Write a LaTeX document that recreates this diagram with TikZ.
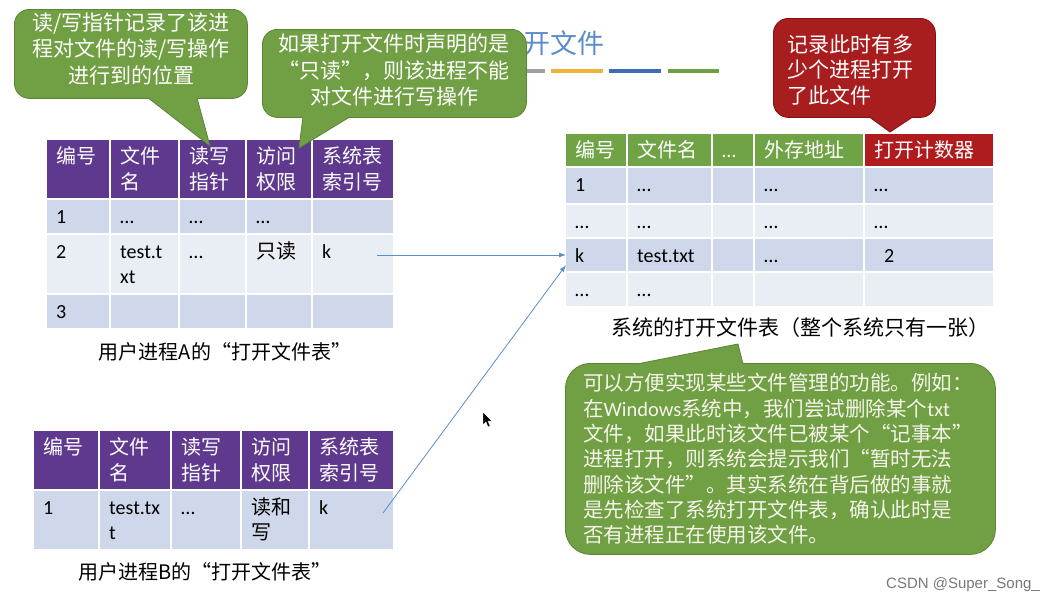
\documentclass[tikz,border=0pt]{standalone}
\usepackage{fontspec}
\setmainfont{Noto Sans CJK SC}
\newfontfamily\lat{Carlito}
\newfontfamily\zh{Noto Sans CJK SC}
\newfontfamily\wmfont{Liberation Sans}
\usepackage{tikz}
\usetikzlibrary{arrows.meta}

\definecolor{hdpurple}{RGB}{94,57,142}
\definecolor{rowdark}{RGB}{207,216,234}
\definecolor{rowlight}{RGB}{233,237,244}
\definecolor{hdgreen}{RGB}{112,163,70}
\definecolor{hdred}{RGB}{176,28,30}
\definecolor{bubgreen}{RGB}{113,159,67}
\definecolor{bubgreenline}{RGB}{92,132,54}
\definecolor{bubred}{RGB}{168,30,30}
\definecolor{bubredline}{RGB}{128,20,20}
\definecolor{linkblue}{RGB}{91,143,201}
\definecolor{titleblue}{RGB}{91,141,200}
\definecolor{dashgray}{RGB}{160,160,160}
\definecolor{dashyellow}{RGB}{240,180,60}
\definecolor{dashblue}{RGB}{63,109,181}
\definecolor{dashgreen}{RGB}{110,159,69}
\definecolor{wmgray}{RGB}{120,120,120}

\tikzset{
  cellbox/.style={rectangle, inner sep=0pt, outer sep=0pt, anchor=north west},
  hdtext/.style={anchor=north west, inner sep=0pt, align=left, text=white, font=\fontsize{20}{26}\selectfont},
  celltext/.style={anchor=north west, inner sep=0pt, align=left, text=black, font=\lat\fontsize{20}{25}\selectfont},
  bubble/.style={rectangle, rounded corners=15pt, inner sep=0pt, anchor=north west, line width=0.8pt},
  bubtext/.style={inner sep=0pt, text=white, font=\fontsize{21}{26.5}\selectfont},
  caption/.style={inner sep=0pt, font=\fontsize{20}{24}\selectfont},
  link/.style={linkblue, line width=0.8pt, -{Latex[length=7pt,width=5pt]}},
}

% fixed height of a cell's first line
\newcommand{\firstline}{\rule{0pt}{18pt}}
% one table cell: name, left, top, width, height, fill, text style, text
\newcommand{\tcell}[8]{%
  \node[cellbox, fill=#6, minimum width=#4pt-2pt, minimum height=#5pt-2pt] (#1) at (#2+1,#3+1) {};
  \node[#7] (#1t) at ([xshift=9pt,yshift=-5pt]#1.north west) {\firstline#8};}

\begin{document}
\begin{tikzpicture}[x=1pt, y=-1pt]
\fill[white] (0,0) rectangle (1054,603);
\useasboundingbox (0,0) rectangle (1054,603);

% title
\node[inner sep=0pt, text=titleblue, font=\fontsize{27}{30}\selectfont] (title) at (564,43) {开文件};
\foreach \a/\b/\fc in {505/545/dashgray, 551/603/dashyellow, 609/661/dashblue, 668/719/dashgreen}
  \draw[\fc, line width=4pt] (\a,71) -- (\b,71);

% user process A
\foreach \i/\x/\w/\txt in {1/46/64/编号, 2/110/69/{文件\\名}, 3/179/67/{读写\\指针}, 4/246/66/{访问\\权限}, 5/312/82/{系统表\\索引号}}
  {\tcell{A0\i}{\x}{139}{\w}{60}{hdpurple}{hdtext}{\txt}}
\foreach \i/\x/\w/\txt in {1/46/64/1, 2/110/69/…, 3/179/67/…, 4/246/66/…, 5/312/82/{}}
  {\tcell{A1\i}{\x}{199}{\w}{35}{rowdark}{celltext}{\txt}}
\foreach \i/\x/\w/\txt in {1/46/64/2, 2/110/69/{test.t\\xt}, 3/179/67/…, 4/246/66/{{\zh 只读}}, 5/312/82/k}
  {\tcell{A2\i}{\x}{234}{\w}{60}{rowlight}{celltext}{\txt}}
\foreach \i/\x/\w/\txt in {1/46/64/3, 2/110/69/{}, 3/179/67/{}, 4/246/66/{}, 5/312/82/{}}
  {\tcell{A3\i}{\x}{294}{\w}{35}{rowdark}{celltext}{\txt}}
\node[caption] (capA) at (225,352) {用户进程A的“打开文件表”};

% user process B
\foreach \i/\x/\w/\txt in {1/33/66/编号, 2/99/72/{文件\\名}, 3/171/70/{读写\\指针}, 4/241/68/{访问\\权限}, 5/309/85/{系统表\\索引号}}
  {\tcell{B0\i}{\x}{430}{\w}{60}{hdpurple}{hdtext}{\txt}}
\foreach \i/\x/\w/\txt in {1/33/66/1, 2/99/72/{test.tx\\t}, 3/171/70/…, 4/241/68/{{\zh 读和}\\{\zh 写}}, 5/309/85/k}
  {\tcell{B1\i}{\x}{490}{\w}{60}{rowdark}{celltext}{\txt}}
\node[caption] (capB) at (205,572) {用户进程B的“打开文件表”};

% system open file table
\foreach \i/\x/\w/\fc/\txt in {1/565/62/hdgreen/编号, 2/627/85/hdgreen/文件名, 3/712/42/hdgreen/{{\lat …}}, 4/754/110/hdgreen/外存地址, 5/864/130/hdred/打开计数器}
  {\tcell{S0\i}{\x}{133}{\w}{34}{\fc}{hdtext}{\txt}}
\foreach \i/\x/\w/\txt in {1/565/62/1, 2/627/85/…, 3/712/42/{}, 4/754/110/…, 5/864/130/…}
  {\tcell{S1\i}{\x}{167}{\w}{37}{rowdark}{celltext}{\txt}}
\foreach \i/\x/\w/\txt in {1/565/62/…, 2/627/85/…, 3/712/42/{}, 4/754/110/…, 5/864/130/…}
  {\tcell{S2\i}{\x}{204}{\w}{34}{rowlight}{celltext}{\txt}}
\foreach \i/\x/\w/\txt in {1/565/62/k, 2/627/85/test.txt, 3/712/42/{}, 4/754/110/…, 5/864/130/{\hspace*{10pt}2}}
  {\tcell{S3\i}{\x}{238}{\w}{34}{rowdark}{celltext}{\txt}}
\foreach \i/\x/\w/\txt in {1/565/62/…, 2/627/85/…, 3/712/42/{}, 4/754/110/{}, 5/864/130/{}}
  {\tcell{S4\i}{\x}{272}{\w}{35}{rowlight}{celltext}{\txt}}
\node[caption, font=\fontsize{21}{24}\selectfont] (capS) at (800,328) {系统的打开文件表（整个系统只有一张）};

% links to the system table
\coordinate (fromA) at (377,255);
\coordinate (fromB) at (383,513);
\draw[link] (fromA) -- (S31.west);
\draw[link] (fromB) -- ([yshift=-10pt]S31.west);

% callouts
\node[bubble, fill=bubgreen, draw=bubgreenline, minimum width=233pt, minimum height=89pt] (bubRW) at (14,9) {};
\coordinate (tipRW) at (210,146);
\path[fill=bubgreen, draw=bubgreenline, line width=0.8pt] ([xshift=134pt,yshift=1pt]bubRW.south west) -- (tipRW) -- ([xshift=183pt,yshift=1pt]bubRW.south west);
\node[bubtext, align=center] (bubRWt) at (131,48.5) {读/写指针记录了该进\\程对文件的读/写操作\\进行到的位置};

\node[bubble, fill=bubgreen, draw=bubgreenline, minimum width=264pt, minimum height=88pt] (bubRO) at (262,29) {};
\coordinate (tipRO) at (299,148);
\path[fill=bubgreen, draw=bubgreenline, line width=0.8pt] ([xshift=41pt,yshift=1pt]bubRO.south west) -- (tipRO) -- ([xshift=88pt,yshift=1pt]bubRO.south west);
\node[bubtext, align=center] (bubROt) at (394,70) {如果打开文件时声明的是\\“只读”，则该进程不能\\对文件进行写操作};

\node[bubble, fill=bubred, draw=bubredline, minimum width=162pt, minimum height=99pt] (bubCnt) at (773,18) {};
\coordinate (tipCnt) at (890,132);
\path[fill=bubred, draw=bubredline, line width=0.8pt] ([xshift=96pt,yshift=1pt]bubCnt.south west) -- (tipCnt) -- ([xshift=140pt,yshift=1pt]bubCnt.south west);
\node[bubtext, align=left, anchor=west, font=\fontsize{21}{25.5}\selectfont] (bubCntt) at (787,69.5) {记录此时有多\\少个进程打开\\了此文件};

\node[bubble, rounded corners=25pt, fill=bubgreen, draw=bubgreenline, minimum width=430pt, minimum height=191pt] (bubWin) at (565,363) {};
\coordinate (tipWin) at (738,344);
\path[fill=bubgreen, draw=bubgreenline, line width=0.8pt] ([xshift=72pt,yshift=-1pt]bubWin.north west) -- (tipWin) -- ([xshift=178pt,yshift=-1pt]bubWin.north west);
\node[bubtext, align=left, anchor=west, font=\fontsize{20.5}{25.3}\selectfont, text={rgb,255:red,245;green,245;blue,235}] (bubWint) at (583,459) {可以方便实现某些文件管理的功能。例如：\\在{\lat Windows}系统中，我们尝试删除某个{\lat txt}\\文件，如果此时该文件已被某个“记事本”\\进程打开，则系统会提示我们“暂时无法\\删除该文件”。其实系统在背后做的事就\\是先检查了系统打开文件表，确认此时是\\否有进程正在使用该文件。};

% mouse pointer
\fill[black, draw=white, line width=0.4pt] (483,412) -- (483,425) -- (486,422) -- (488,427) -- (490,426) -- (488,421) -- (492,421) -- cycle;

\node[inner sep=0pt, anchor=east, text=wmgray, font=\wmfont\fontsize{15}{17}\selectfont] (wm) at (1040,585) {CSDN @Super\_Song\_};
\end{tikzpicture}
\end{document}
